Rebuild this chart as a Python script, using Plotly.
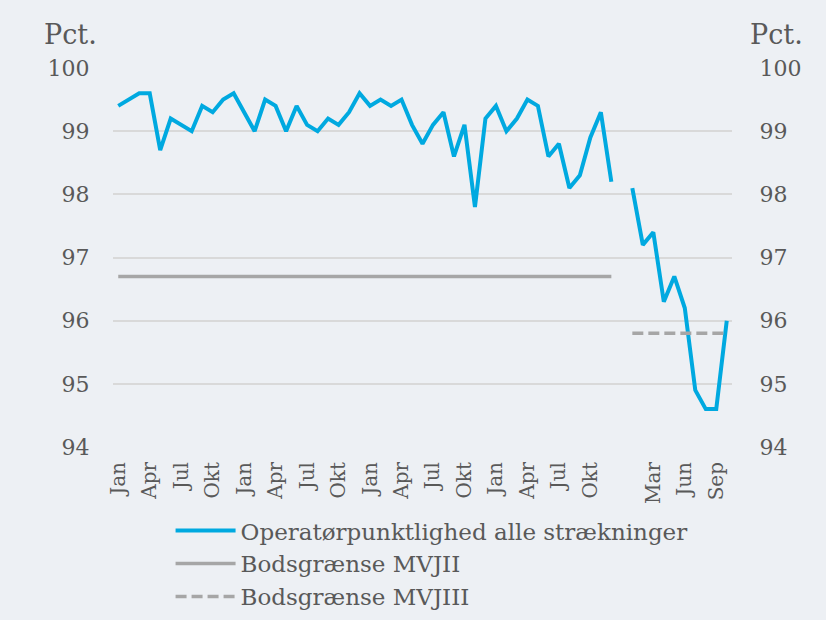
import plotly.graph_objects as go

months = ["Jan", "Feb", "Mar", "Apr", "Maj", "Jun", "Jul", "Aug", "Sep", "Okt", "Nov", "Dec"]
categories = months * 4 + [""] + months[:10]

punktlighed = [
    99.4, 99.5, 99.6, 99.6, 98.7, 99.2, 99.1, 99.0, 99.4, 99.3, 99.5, 99.6,
    99.3, 99.0, 99.5, 99.4, 99.0, 99.4, 99.1, 99.0, 99.2, 99.1, 99.3, 99.6,
    99.4, 99.5, 99.4, 99.5, 99.1, 98.8, 99.1, 99.3, 98.6, 99.1, 97.8, 99.2,
    99.4, 99.0, 99.2, 99.5, 99.4, 98.6, 98.8, 98.1, 98.3, 98.9, 99.3, 98.2,
    None,
    98.1, 97.2, 97.4, 96.3, 96.7, 96.2, 94.9, 94.6, 94.6, 96.0,
]
mvjii = [96.7] * 48 + [None] * 11
mvjiii = [None] * 49 + [95.8] * 10

y_ticks = [94, 95, 96, 97, 98, 99, 100]

x = list(range(len(categories)))
tick_idx = list(range(0, len(categories), 3))

BG = "#EDF0F4"
TXT = "#595959"
FONT = "DejaVu Serif"

fig = go.Figure()
fig.add_trace(go.Scatter(x=x, y=punktlighed, mode="lines", name="Operatørpunktlighed alle strækninger",
                         line=dict(color="#00A9E0", width=4), connectgaps=False))
fig.add_trace(go.Scatter(x=x, y=mvjii, mode="lines", name="Bodsgrænse MVJII",
                         line=dict(color="#A6A6A6", width=3.5)))
fig.add_trace(go.Scatter(x=x, y=mvjiii, mode="lines", name="Bodsgrænse MVJIII",
                         line=dict(color="#A6A6A6", width=3.5, dash="11px,5px")))
fig.add_trace(go.Scatter(x=[0], y=[None], yaxis="y2", showlegend=False, hoverinfo="skip"))

fig.update_layout(
    width=826, height=620,
    paper_bgcolor=BG, plot_bgcolor=BG,
    margin=dict(l=113, r=94, t=68, b=173, autoexpand=False),
    font=dict(family=FONT, color=TXT, size=22),
    xaxis=dict(range=[-0.5, 58.5], tickmode="array", tickvals=tick_idx,
               ticktext=[categories[i] for i in tick_idx], tickangle=-90,
               showgrid=False, zeroline=False, showline=False,
               ticks="outside", ticklen=6, tickcolor=BG,
               tickfont=dict(size=20, color=TXT)),
    yaxis=dict(range=[94, 100], tickvals=y_ticks, showgrid=True, gridcolor="#D9D9D9",
               gridwidth=1.5, zeroline=False, ticks="outside", ticklen=18, tickcolor=BG,
               tickfont=dict(size=22, color=TXT)),
    yaxis2=dict(range=[94, 100], tickvals=y_ticks, overlaying="y", side="right",
                showgrid=False, zeroline=False, ticks="outside", ticklen=22, tickcolor=BG,
                tickfont=dict(size=22, color=TXT)),
    legend=dict(orientation="v", x=0.093, xanchor="left", y=-0.164, yanchor="top",
                font=dict(size=23, color=TXT), bgcolor="rgba(0,0,0,0)",
                tracegroupgap=0, itemwidth=60),
    showlegend=True,
)
fig.add_annotation(text="Pct.", xref="paper", yref="paper", x=-0.069, y=1.0, yshift=34,
                   xanchor="center", yanchor="middle", showarrow=False,
                   font=dict(size=27, color=TXT, family=FONT))
fig.add_annotation(text="Pct.", xref="paper", yref="paper", x=1.072, y=1.0, yshift=34,
                   xanchor="center", yanchor="middle", showarrow=False,
                   font=dict(size=27, color=TXT, family=FONT))

fig.write_html("out.html", config={"displayModeBar": False},
               post_script="document.body.style.margin='0';document.body.style.padding='0';")
